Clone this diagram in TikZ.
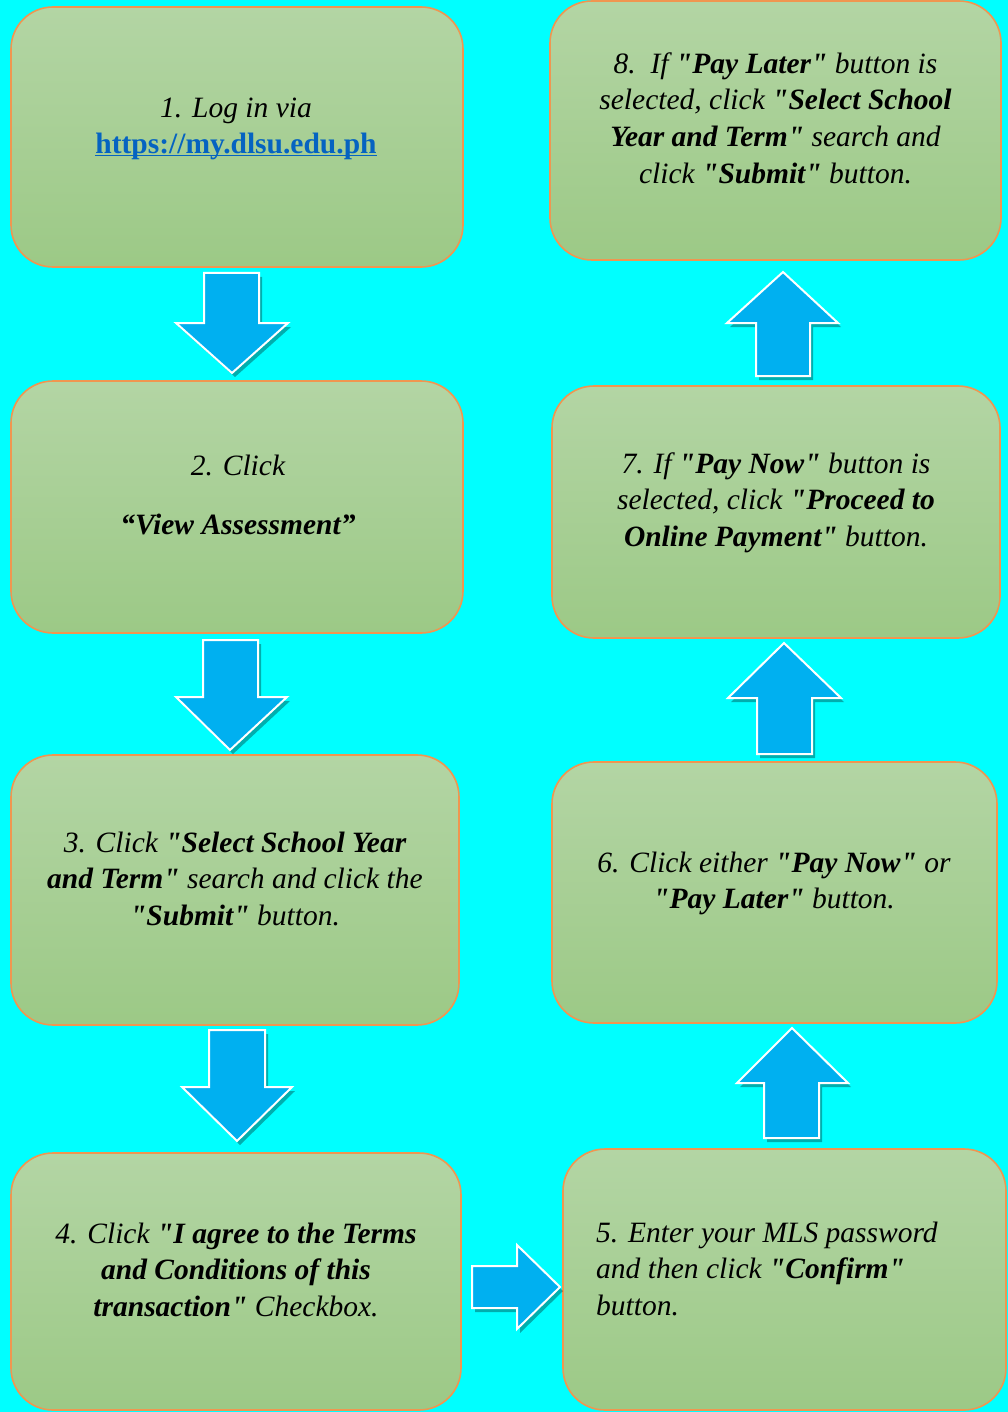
\documentclass[tikz,border=0pt]{standalone}
\usepackage{fontspec}
\setmainfont{Liberation Serif}[Ligatures=TeXOff]
\usetikzlibrary{shadows}
\definecolor{bgcyan}{RGB}{0,255,255}
\definecolor{gtop}{RGB}{179,213,164}
\definecolor{gbot}{RGB}{156,201,134}
\definecolor{boxborder}{RGB}{240,150,80}
\definecolor{arrowblue}{RGB}{0,176,240}
\definecolor{urlblue}{RGB}{5,99,193}
\tikzset{
  stepbox/.style={draw=boxborder, line width=1.6pt, rounded corners=42pt,
    top color=gtop, bottom color=gbot, inner sep=0pt},
  steptext/.style={inner sep=0pt, anchor=north, align=center,
    font=\fontsize{29.5}{36.8}\selectfont\itshape},
  blockarrow/.style={fill=arrowblue, draw=white, line width=2pt, line join=miter,
    drop shadow={shadow xshift=3pt, shadow yshift=-4pt, opacity=0.35, fill=black!80!teal}}
}
\begin{document}
\begin{tikzpicture}[x=1pt,y=-1pt]
\fill[bgcyan] (0,0) rectangle (1008,1412);
\useasboundingbox (0,0) rectangle (1008,1412);

% boxes
\node[stepbox, minimum width=452pt, minimum height=260pt] (b1) at (237,137) {};
\node[stepbox, minimum width=452pt, minimum height=252pt] (b2) at (237,507) {};
\node[stepbox, minimum width=448pt, minimum height=270pt] (b3) at (235,890) {};
\node[stepbox, minimum width=450pt, minimum height=257pt] (b4) at (236,1281.5) {};
\node[stepbox, minimum width=443pt, minimum height=261pt] (b5) at (784.5,1279.5) {};
\node[stepbox, minimum width=445pt, minimum height=261pt] (b6) at (774.5,892.5) {};
\node[stepbox, minimum width=448pt, minimum height=252pt] (b7) at (776,512) {};
\node[stepbox, minimum width=451pt, minimum height=259pt] (b8) at (775.5,130.5) {};

% texts
\node[steptext] (t1) at (236,91.2) {\strut 1. Log in via\\
  {\color{urlblue}\upshape\bfseries\underline{\smash{https://my.dlsu.edu.ph}}}};
\node[steptext] (t2) at (238,449.2) {\strut 2. Click\\[23pt]\textbf{“View Assessment”}};
\node[steptext] (t3) at (235,826.2) {\strut 3. Click \textbf{"Select School Year}\\
  \textbf{and Term"} search and click the\\\textbf{"Submit"} button.};
\node[steptext] (t4) at (236,1217.2) {\strut 4. Click \textbf{"I agree to the Terms}\\
  \textbf{and Conditions of this}\\\textbf{transaction"} Checkbox.};
\node[steptext, anchor=north west, align=left] (t5) at (596,1216.2) {\strut 5. Enter your MLS password\\
  and then click \textbf{"Confirm"}\\button.};
\node[steptext] (t6) at (774,846.2) {\strut 6. Click either \textbf{"Pay Now"} or\\
  \textbf{"Pay Later"} button.};
\node[steptext] (t7) at (776,447.2) {\strut 7. If \textbf{"Pay Now"} button is\\
  selected, click \textbf{"Proceed to}\\\textbf{Online Payment"} button.};
\node[steptext] (t8) at (775.5,47.2) {\strut 8.\ \ If \textbf{"Pay Later"} button is\\
  selected, click \textbf{"Select School}\\\textbf{Year and Term"} search and\\
  click \textbf{"Submit"} button.};

% block arrows (down)
\draw[blockarrow] (204,273) -- (259,273) -- (259,323) -- (288,323) -- (232,373)
  -- (176,323) -- (204,323) -- cycle;
\draw[blockarrow] (203,640) -- (258,640) -- (258,697) -- (287,697) -- (230,750)
  -- (176,697) -- (203,697) -- cycle;
\draw[blockarrow] (209,1030) -- (265,1030) -- (265,1087) -- (292,1087) -- (237,1141)
  -- (182,1087) -- (209,1087) -- cycle;
% right
\draw[blockarrow] (472,1266) -- (517,1266) -- (517,1245) -- (560,1287) -- (517,1329)
  -- (517,1308) -- (472,1308) -- cycle;
% up
\draw[blockarrow] (764,1138) -- (764,1083) -- (737,1083) -- (792,1028) -- (848,1083)
  -- (819,1083) -- (819,1138) -- cycle;
\draw[blockarrow] (757,754) -- (757,698) -- (728,698) -- (784,643) -- (841,698)
  -- (812,698) -- (812,754) -- cycle;
\draw[blockarrow] (756,376) -- (756,323) -- (727,323) -- (783,272) -- (838,323)
  -- (810,323) -- (810,376) -- cycle;
\end{tikzpicture}
\end{document}
